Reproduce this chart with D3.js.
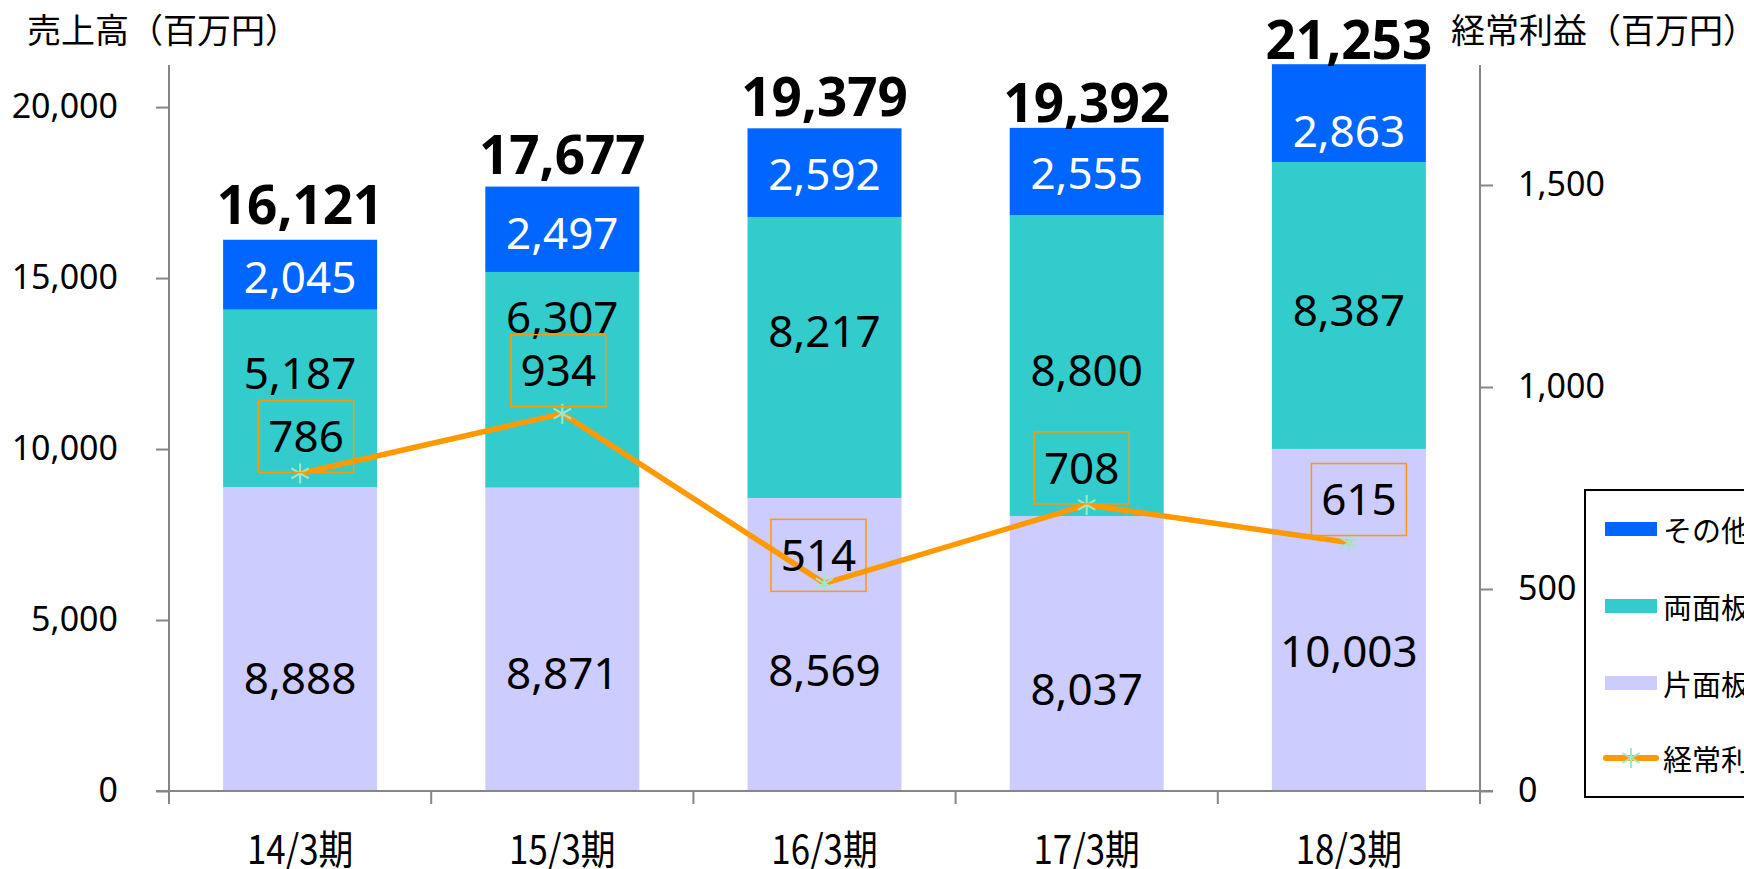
<!DOCTYPE html>
<html><head><meta charset="utf-8">
<script src="https://cdn.jsdelivr.net/npm/d3@7"></script>
<style>
html,body{margin:0;padding:0;background:#fff;overflow:hidden;}
svg{display:block;}
text{font-family:"Noto Sans","Noto Sans CJK JP",sans-serif;}
.jp{font-family:"Noto Sans CJK JP","Noto Sans",sans-serif;}
</style></head>
<body><svg id="c" width="1744" height="869"></svg>
<script>
// ---- data ----
const categories = ["14/3期","15/3期","16/3期","17/3期","18/3期"];
const seriesNames = ["片面板","両面板","その他"];
const singleSided = [8888, 8871, 8569, 8037, 10003];   // 片面板
const doubleSided = [5187, 6307, 8217, 8800, 8387];    // 両面板
const others      = [2045, 2497, 2592, 2555, 2863];    // その他
const totals      = [16121, 17677, 19379, 19392, 21253];
const profit      = [786, 934, 514, 708, 615];         // 経常利益
const lineName = "経常利益";
const leftTicks  = [0, 5000, 10000, 15000, 20000];
const rightTicks = [0, 500, 1000, 1500];
const leftTitle  = "売上高（百万円）";
const rightTitle = "経常利益（百万円）";

// ---- label nudges (manual label placement in the original, px) ----
const nudgeSingle = [39, 34, 26, 36, 31];
const nudgeDouble = [-25, -63, -26, 5, 5];
const nudgeOther  = [3, 4, 2, 2, 18];
const nudgeTotal  = [-16, -13, -12, -6, -5];
const nudgeLineX  = [6, -4, -6, -5, 10];
const nudgeLineY  = [-37, -43, -28, -37, -43];

// ---- styles ----
const colors = {"片面板":"#CCCCFF","両面板":"#33CCCC","その他":"#0066FF"};
const lineColor = "#FF9900", markerColor = "#A0E8C8", axisColor = "#868686";

const svg = d3.select("#c");
const L = 169, R = 1480, B = 791, T = 65;

const x = d3.scaleBand().domain(categories).range([L, R]).paddingInner(0.4127).paddingOuter(0.20635);
const yL = d3.scaleLinear().domain([0, 21230]).range([B, T]);
const yR = d3.scaleLinear().domain([0, 1797]).range([B, T]);
const fmt = d3.format(",");
const seriesVals = [singleSided, doubleSided, others];

const rows = categories.map((c, i) => ({cat: c, "片面板": singleSided[i], "両面板": doubleSided[i], "その他": others[i]}));
const stacked = d3.stack().keys(seriesNames)(rows);

// bars
const g = svg.append("g");
stacked.forEach(s => {
  g.selectAll(null).data(s).enter().append("rect")
    .attr("x", d => x(d.data.cat))
    .attr("width", x.bandwidth())
    .attr("y", d => yL(d[1]))
    .attr("height", d => yL(d[0]) - yL(d[1]))
    .attr("fill", colors[s.key]);
});

// axes
const axL = svg.append("g").attr("transform", `translate(${L},0)`)
  .call(d3.axisLeft(yL).tickValues(leftTicks).tickSize(13).tickPadding(38).tickFormat(fmt));
const axR = svg.append("g").attr("transform", `translate(${R},0)`)
  .call(d3.axisRight(yR).tickValues(rightTicks).tickSize(13).tickPadding(25).tickFormat(fmt));
[axL, axR].forEach(a => {
  a.select(".domain").attr("d", `M0,${T}V${B}`).attr("stroke", axisColor).attr("stroke-width", 2);
  a.selectAll(".tick line").attr("stroke", axisColor).attr("stroke-width", 2);
  a.selectAll(".tick text").attr("font-size", 34).attr("fill", "#000")
    .style("font-family", '"Noto Sans",sans-serif');
});
// x axis
const xEdges = categories.map(c => x(c) - x.step() * x.paddingInner() / 2).concat([R]);
const axX = svg.append("g");
axX.append("line").attr("x1", L - 13).attr("x2", R + 13).attr("y1", B).attr("y2", B)
  .attr("stroke", axisColor).attr("stroke-width", 2);
axX.selectAll(null).data(xEdges).enter().append("line")
  .attr("x1", d => d).attr("x2", d => d).attr("y1", B).attr("y2", B + 13)
  .attr("stroke", axisColor).attr("stroke-width", 2);
axX.selectAll(null).data(categories).enter().append("text")
  .attr("class", "jp")
  .attr("transform", d => `translate(${x(d) + x.bandwidth() / 2},864) scale(0.87,1)`)
  .attr("text-anchor", "middle").attr("font-size", 40).attr("fill", "#000")
  .text(d => d);

// axis titles
svg.append("text").attr("class", "jp").attr("x", 27).attr("y", 28).attr("dominant-baseline", "central")
  .attr("font-size", 34).attr("fill", "#000").text(leftTitle);
svg.append("text").attr("class", "jp").attr("x", 1451).attr("y", 28).attr("dominant-baseline", "central")
  .attr("font-size", 34).attr("fill", "#000").text(rightTitle);

// segment labels
const segLabel = (si, nudge, color) => {
  svg.append("g").selectAll(null).data(stacked[si]).enter().append("text")
    .attr("x", d => x(d.data.cat) + x.bandwidth() / 2)
    .attr("y", (d, i) => (yL(d[0]) + yL(d[1])) / 2 + nudge[i] + 44 * 0.357)
    .attr("text-anchor", "middle").attr("font-size", 44).attr("fill", color)
    .text((d, i) => fmt(seriesVals[si][i]));
};
segLabel(0, nudgeSingle, "#000");
segLabel(1, nudgeDouble, "#000");
segLabel(2, nudgeOther, "#fff");

// totals
svg.append("g").selectAll(null).data(totals).enter().append("text")
  .attr("x", (d, i) => x(categories[i]) + x.bandwidth() / 2)
  .attr("y", (d, i) => yL(d) + nudgeTotal[i])
  .attr("text-anchor", "middle").attr("font-size", 53).attr("font-weight", "bold").attr("fill", "#000")
  .text(d => fmt(d));

// profit line
const cx = i => x(categories[i]) + x.bandwidth() / 2;
const line = d3.line().x((d, i) => cx(i)).y(d => yR(d));
svg.append("path").datum(profit).attr("d", line).attr("fill", "none")
  .attr("stroke", lineColor).attr("stroke-width", 5.5).attr("stroke-linejoin", "round").attr("stroke-linecap", "round");

const star = (sel, s) => {
  sel.append("path")
    .attr("d", `M0,${-s}V${s}M${-s * 0.87},${-s * 0.5}L${s * 0.87},${s * 0.5}M${-s * 0.87},${s * 0.5}L${s * 0.87},${-s * 0.5}`)
    .attr("stroke", markerColor).attr("stroke-width", 2).attr("fill", "none");
};
profit.forEach((v, i) => {
  const m = svg.append("g").attr("transform", `translate(${cx(i)},${yR(v)})`);
  star(m, 10);
});

// profit labels in boxes
profit.forEach((v, i) => {
  const bx = cx(i) + nudgeLineX[i], by = yR(v) + nudgeLineY[i];
  const lg = svg.append("g").attr("transform", `translate(${bx},${by})`);
  lg.append("rect").attr("x", -47.5).attr("y", -36).attr("width", 95).attr("height", 72)
    .attr("fill", "none").attr("stroke", lineColor).attr("stroke-width", 1.5);
  lg.append("text").attr("text-anchor", "middle").attr("y", 44 * 0.357).attr("font-size", 44).attr("fill", "#000").text(v);
});

// legend
const leg = svg.append("g");
leg.append("rect").attr("x", 1585).attr("y", 490).attr("width", 200).attr("height", 307)
  .attr("fill", "#fff").attr("stroke", "#000").attr("stroke-width", 2);
const legItems = [...seriesNames].reverse();
const legY = [529, 606, 683];
legItems.forEach((n, i) => {
  leg.append("rect").attr("x", 1605).attr("y", legY[i] - 7).attr("width", 52).attr("height", 14).attr("fill", colors[n]);
  leg.append("text").attr("class", "jp").attr("x", 1663).attr("y", legY[i]).attr("dominant-baseline", "central")
    .attr("font-size", 29).attr("fill", "#000").text(n);
});
leg.append("line").attr("x1", 1606).attr("x2", 1656).attr("y1", 758).attr("y2", 758)
  .attr("stroke", lineColor).attr("stroke-width", 6).attr("stroke-linecap", "round");
star(leg.append("g").attr("transform", "translate(1631,758)"), 10);
leg.append("text").attr("class", "jp").attr("x", 1663).attr("y", 758).attr("dominant-baseline", "central")
  .attr("font-size", 29).attr("fill", "#000").text(lineName);
</script></body></html>
